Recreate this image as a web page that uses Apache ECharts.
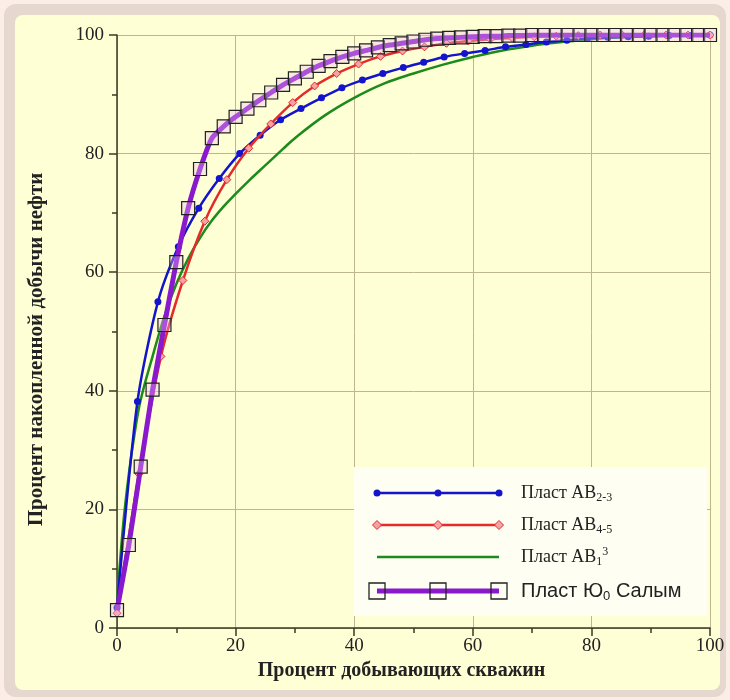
<!DOCTYPE html>
<html>
<head>
<meta charset="utf-8">
<script src="https://cdn.jsdelivr.net/npm/echarts@6/dist/echarts.min.js"></script>
<style>
html,body{margin:0;padding:0;background:#fbeee6;}
#chart{width:730px;height:700px;}
</style>
</head>
<body>
<div id="chart"></div>
<script>
// ---- data ----
const xTickLabels = [0, 20, 40, 60, 80, 100];
const yTickLabels = [0, 20, 40, 60, 80, 100];

const seriesNames = ['Пласт АВ2-3', 'Пласт АВ4-5', 'Пласт АВ1_3', 'Пласт Ю0 Салым'];

const blueX = [0,3.45,6.9,10.34,13.79,17.24,20.69,24.14,27.59,31.03,34.48,37.93,41.38,44.83,48.28,51.72,55.17,58.62,62.07,65.52,68.97,72.41,75.86,79.31,82.76,86.21,89.66,93.1,96.55,100];
const blueY = [3.4,38.2,55,64.3,70.8,75.8,80,83.1,85.7,87.6,89.4,91.1,92.4,93.5,94.5,95.4,96.3,96.9,97.4,98,98.4,98.8,99.1,99.4,99.6,99.7,99.8,99.9,99.9,100];

const redX = [0,3.7,7.41,11.11,14.81,18.52,22.22,25.93,29.63,33.33,37.04,40.74,44.44,48.15,51.85,55.56,59.26,62.96,66.67,70.37,74.07,77.78,81.48,85.19,88.89,92.59,96.3,100];
const redY = [2.5,26,45.8,58.6,68.6,75.6,80.9,85,88.6,91.4,93.5,95.1,96.4,97.3,98,98.6,99,99.3,99.5,99.7,99.8,99.9,100,100,100,100,100,100];

const greenX = [0,1,2,3,4,6,8,10,12,14,16,18,20,22,25,28,30,35,40,45,50,55,60,65,70,75,80,85,90,95,100];
const greenY = [4,17,26,33,38.5,45.8,52.6,58,62.3,65.8,68.7,71.1,73.2,75.2,78,80.8,82.6,86.4,89.4,91.8,93.5,95,96.3,97.4,98.2,98.8,99.3,99.6,99.8,99.95,100];

const purpleX = [0,2,4,6,8,10,12,14,16,18,20,22,24,26,28,30,32,34,36,38,40,42,44,46,48,50,52,54,56,58,60,62,64,66,68,70,72,74,76,78,80,82,84,86,88,90,92,94,96,98,100];
const purpleY = [3,14,27.2,40.2,51.1,61.7,70.8,77.4,82.6,84.6,86.2,87.6,89,90.3,91.6,92.7,93.8,94.8,95.6,96.3,96.9,97.4,97.9,98.3,98.6,98.9,99.2,99.4,99.5,99.6,99.7,99.8,99.8,99.9,99.9,100,100,100,100,100,100,100,100,100,100,100,100,100,100,100,100];

// ---- styles ----
const C_BLUE = '#1414cc';
const C_RED = '#e42a2a';
const C_GREEN = '#1c8a1c';
const C_PURPLE = '#8a18cc';
const C_AXIS = '#3a3a22';
const C_GRID = '#bfb690';
const SERIF = '"Liberation Serif", "Times New Roman", serif';
const SANS = '"Liberation Sans", Arial, sans-serif';

function pairs(xs, ys) { return xs.map((x, i) => [x, ys[i]]); }

const chart = echarts.init(document.getElementById('chart'), null, {renderer: 'canvas'});

// legend graphic (positions only)
const LX0 = 377, LX1 = 499, LXM = 438;
const rows = [493, 525, 557, 591];
const textX = 521;
function diamond(cx, cy, r) { return [[cx, cy - r], [cx + r, cy], [cx, cy + r], [cx - r, cy]]; }

const legendEls = [
  {type: 'rect', shape: {x: 354, y: 467, width: 353, height: 149}, style: {fill: '#fefef3'}, z: 100},
  // blue
  {type: 'line', shape: {x1: LX0, y1: rows[0], x2: LX1, y2: rows[0]}, style: {stroke: C_BLUE, lineWidth: 2.5}, z: 101},
  ...[LX0, LXM, LX1].map(x => ({type: 'circle', shape: {cx: x, cy: rows[0], r: 3.5}, style: {fill: C_BLUE}, z: 102})),
  // red
  {type: 'line', shape: {x1: LX0, y1: rows[1], x2: LX1, y2: rows[1]}, style: {stroke: C_RED, lineWidth: 2.5}, z: 101},
  ...[LX0, LXM, LX1].map(x => ({type: 'polygon', shape: {points: diamond(x, rows[1], 4.5)}, style: {fill: '#f3a3a3', stroke: C_RED, lineWidth: 1}, z: 102})),
  // green
  {type: 'line', shape: {x1: LX0, y1: rows[2], x2: LX1, y2: rows[2]}, style: {stroke: C_GREEN, lineWidth: 2.5}, z: 101},
  // purple
  {type: 'line', shape: {x1: LX0, y1: rows[3], x2: LX1, y2: rows[3]}, style: {stroke: C_PURPLE, lineWidth: 5}, z: 101},
  ...[LX0, LXM, LX1].map(x => ({type: 'rect', shape: {x: x - 8, y: rows[3] - 8, width: 16, height: 16}, style: {fill: 'rgba(0,0,0,0)', stroke: '#222', lineWidth: 1.3}, z: 102})),
];

const richSerif = {
  m: {fontSize: 18, fontFamily: SERIF, fill: '#222', lineHeight: 22},
  s: {fontSize: 12, fontFamily: SERIF, fill: '#222', lineHeight: 12, verticalAlign: 'bottom'},
  p: {fontSize: 12, fontFamily: SERIF, fill: '#222', lineHeight: 12, verticalAlign: 'top'},
  n: {fontSize: 20, fontFamily: SANS, fill: '#222', lineHeight: 24},
  ns: {fontSize: 13, fontFamily: SANS, fill: '#222', lineHeight: 13, verticalAlign: 'bottom'}
};
const legendTexts = [
  '{m|Пласт АВ}{s|2-3}',
  '{m|Пласт АВ}{s|4-5}',
  '{m|Пласт АВ}{s|1}{p|3}',
  '{n|Пласт Ю}{ns|0}{n| Салым}'
];
legendTexts.forEach((t, i) => {
  legendEls.push({
    type: 'text', x: textX, y: rows[i], z: 103,
    style: {text: t, rich: richSerif, verticalAlign: 'middle', align: 'left'}
  });
});

const option = {
  backgroundColor: '#fbeee6',
  animation: false,
  grid: {left: 117, right: 20, top: 35, bottom: 72, containLabel: false},
  xAxis: {
    type: 'value', min: 0, max: 100, interval: 20,
    name: 'Процент добывающих скважин',
    nameLocation: 'middle', nameGap: 24,
    nameTextStyle: {fontFamily: SERIF, fontSize: 20, fontWeight: 'bold', color: '#222', padding: [0, 24, 0, 0]},
    axisLine: {lineStyle: {color: C_AXIS, width: 1.5}},
    axisTick: {length: 8, lineStyle: {color: C_AXIS, width: 1.5}},
    minorTick: {show: true, splitNumber: 2, length: 5, lineStyle: {color: C_AXIS, width: 1.5}},
    axisLabel: {fontFamily: SERIF, fontSize: 19, color: '#222', margin: 9,
      formatter: v => xTickLabels.includes(v) ? String(v) : ''},
    splitLine: {show: true, lineStyle: {color: C_GRID, width: 1}}
  },
  yAxis: {
    type: 'value', min: 0, max: 100, interval: 20,
    name: 'Процент накопленной добычи нефти',
    nameLocation: 'middle', nameGap: 70,
    nameTextStyle: {fontFamily: SERIF, fontSize: 21, fontWeight: 'bold', color: '#222', padding: [0, 36, 0, 0]},
    axisLine: {show: true, lineStyle: {color: C_AXIS, width: 1.5}},
    axisTick: {show: true, length: 8, lineStyle: {color: C_AXIS, width: 1.5}},
    minorTick: {show: true, splitNumber: 2, length: 5, lineStyle: {color: C_AXIS, width: 1.5}},
    axisLabel: {fontFamily: SERIF, fontSize: 19, color: '#222', margin: 13,
      formatter: v => yTickLabels.includes(v) ? String(v) : ''},
    splitLine: {show: true, lineStyle: {color: C_GRID, width: 1}}
  },
  graphic: [
    {type: 'rect', shape: {x: 4, y: 4, width: 722, height: 693, r: 12}, style: {fill: '#e6d7cf'}, z: -20, silent: true},
    {type: 'rect', shape: {x: 15, y: 15, width: 705, height: 675, r: 8}, style: {fill: '#ffffd6'}, z: -19, silent: true},
    ...legendEls
  ],
  series: [
    {
      name: seriesNames[2], type: 'line', data: pairs(greenX, greenY),
      smooth: 0.4, showSymbol: false, symbol: 'none',
      lineStyle: {color: C_GREEN, width: 2.5}, z: 3
    },
    {
      name: seriesNames[0], type: 'line', data: pairs(blueX, blueY),
      smooth: 0.25, symbol: 'circle', symbolSize: 7,
      itemStyle: {color: C_BLUE}, lineStyle: {color: C_BLUE, width: 2.5}, z: 4
    },
    {
      name: seriesNames[1], type: 'line', data: pairs(redX, redY),
      smooth: 0.25, symbol: 'diamond', symbolSize: 8,
      itemStyle: {color: '#f3a3a3', borderColor: C_RED, borderWidth: 1},
      lineStyle: {color: C_RED, width: 2.5}, z: 5
    },
    {
      name: seriesNames[3], type: 'line', data: pairs(purpleX, purpleY),
      smooth: 0.15, symbol: 'rect', symbolSize: 13,
      itemStyle: {color: 'rgba(235,190,240,0.35)', borderColor: '#222', borderWidth: 1.2},
      lineStyle: {color: C_PURPLE, width: 5}, z: 6
    }
  ]
};
chart.setOption(option);
</script>
</body>
</html>
